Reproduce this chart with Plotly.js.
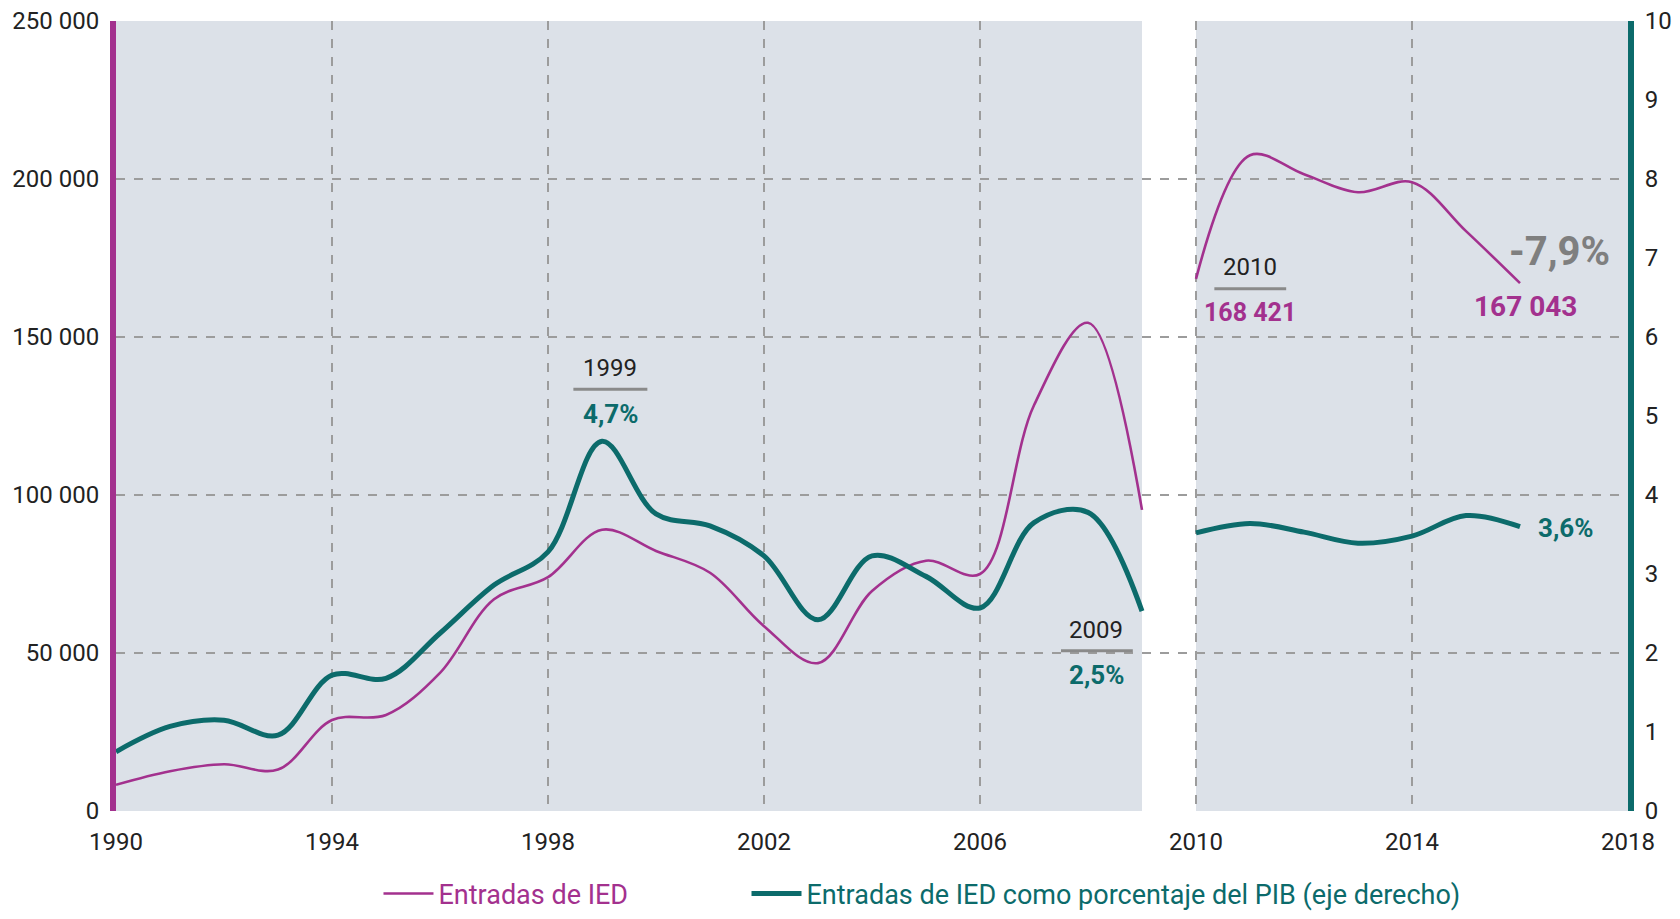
<!DOCTYPE html>
<html>
<head>
<meta charset="utf-8">
<script src="https://cdn.plot.ly/plotly-3.0.1.min.js"></script>
<style>html,body{margin:0;padding:0;background:#fff;}#chart{width:1680px;height:919px;}</style>
</head>
<body>
<div id="chart"></div>
<script>
// ---- data ----
const years = [1990,1991,1992,1993,1994,1995,1996,1997,1998,1999,2000,2001,2002,2003,2004,2005,2006,2007,2008,2009,2010,2011,2012,2013,2014,2015,2016];
const iedInflows = [8300,12600,14800,13100,28800,30400,43700,67000,74000,89000,82300,75400,58500,46800,69600,79200,75000,128400,154500,95300,168421,207500,201500,195800,199000,183500,167043];
const iedPctGdp = [0.75,1.07,1.15,0.96,1.72,1.68,2.25,2.86,3.28,4.68,3.76,3.61,3.23,2.42,3.23,2.97,2.57,3.65,3.78,2.53,3.52,3.64,3.53,3.39,3.48,3.74,3.60];
const breakYear = 2009;          // last year of the first segment
const resumeYear = 2010;         // first year of the second segment
const xTickLabels = [1990,1994,1998,2002,2006,2010,2014,2018];
const seriesNames = ["Entradas de IED", "Entradas de IED como porcentaje del PIB (eje derecho)"];

const MAG = "#a3318e", TEAL = "#0c6b6b", GRID = "#9c9c9c", BG = "#dce1e8";
const FONT = "Roboto, 'Liberation Sans', sans-serif";

const i1 = years.indexOf(breakYear) + 1;
const i2 = years.indexOf(resumeYear);

function seg(arr, a, b){ return arr.slice(a, b); }

const traces = [
  {x: seg(years,0,i1), y: seg(iedInflows,0,i1), yaxis:"y", type:"scatter", mode:"lines",
   line:{color:MAG, width:2.6, shape:"spline", smoothing:1},
   name:'<span style="color:'+MAG+'">'+seriesNames[0]+'</span>', legendgroup:"a", legend:"legend"},
  {x: seg(years,0,i1), y: seg(iedPctGdp,0,i1), yaxis:"y2", type:"scatter", mode:"lines",
   line:{color:TEAL, width:5, shape:"spline", smoothing:1},
   name:'<span style="color:'+TEAL+'">'+seriesNames[1]+'</span>', legendgroup:"b", legend:"legend2"},
  {x: seg(years,i2), y: seg(iedInflows,i2), yaxis:"y", type:"scatter", mode:"lines",
   line:{color:MAG, width:2.6, shape:"spline", smoothing:1}, showlegend:false, legendgroup:"a"},
  {x: seg(years,i2), y: seg(iedPctGdp,i2), yaxis:"y2", type:"scatter", mode:"lines",
   line:{color:TEAL, width:5, shape:"spline", smoothing:1}, showlegend:false, legendgroup:"b"}
];

const last = years.length - 1;
const y1999 = years.indexOf(1999), y2009 = years.indexOf(2009), y2010 = years.indexOf(2010);
function pct(v){ return v.toFixed(1).replace(".", ",") + "%"; }
function thou(v){ return String(v).replace(/\B(?=(\d{3})+(?!\d))/g, " "); }

const annotations = [
  {x:1999.15, y:5.61, text:"1999", font:{size:24, color:"#222"}},
  {x:1999.15, y:5.02, text:"<b>"+pct(iedPctGdp[y1999])+"</b>", font:{size:26, color:TEAL}},
  {x:2008.15, y:2.29, text:"2009", font:{size:24, color:"#222"}},
  {x:2008.15, y:1.72, text:"<b>"+pct(iedPctGdp[y2009])+"</b>", font:{size:26, color:TEAL}},
  {x:2011.0, y:6.89, text:"2010", font:{size:24, color:"#222"}},
  {x:2011.0, y:6.31, text:"<b>"+thou(iedInflows[y2010])+"</b>", font:{size:25, color:MAG}},
  {x:2016.74, y:7.08, text:"<b>-7,9%</b>", font:{size:40, color:"#7f7f7f"}},
  {x:2016.11, y:6.38, text:"<b>"+thou(iedInflows[last])+"</b>", font:{size:28, color:MAG}},
  {x:2016.85, y:3.58, text:"<b>"+pct(iedPctGdp[last])+"</b>", font:{size:26, color:TEAL}}
].map(a => Object.assign({xref:"x", yref:"y2", showarrow:false, xanchor:"center", yanchor:"middle"}, a, {font:Object.assign({family:FONT}, a.font)}));

const shapes = [
  {type:"rect", xref:"x", yref:"paper", x0:breakYear, x1:resumeYear, y0:0, y1:1, fillcolor:"#ffffff", line:{width:0}, layer:"below"},
  {type:"line", xref:"x", yref:"y2", x0:1998.47, x1:1999.84, y0:5.34, y1:5.34, line:{color:"#8a8a8a", width:3}},
  {type:"line", xref:"x", yref:"y2", x0:2007.5, x1:2008.83, y0:2.03, y1:2.03, line:{color:"#8a8a8a", width:3}},
  {type:"line", xref:"x", yref:"y2", x0:2010.34, x1:2011.67, y0:6.61, y1:6.61, line:{color:"#8a8a8a", width:3}}
];

const legendBase = {orientation:"h", y:-0.105, xanchor:"left", yanchor:"middle", itemwidth:50,
                    font:{family:FONT, size:27}, bgcolor:"rgba(0,0,0,0)", borderwidth:0};

const layout = {
  width:1680, height:919,
  margin:{l:116, r:52, t:21, b:108, autoexpand:false},
  paper_bgcolor:"#ffffff", plot_bgcolor:BG,
  separators:", ",
  font:{family:FONT, size:24, color:"#222"},
  showlegend:true,
  legend:Object.assign({x:0.1736}, legendBase),
  legend2:Object.assign({x:0.417}, legendBase),
  xaxis:{range:[1990,2018], tickvals:xTickLabels, ticktext:xTickLabels.map(String),
         showgrid:true, gridcolor:GRID, griddash:"dash", gridwidth:1.2,
         showline:false, zeroline:false, ticks:"", ticklabelstandoff:14,
         tickfont:{family:FONT, size:24, color:"#222"}, fixedrange:true},
  yaxis:{range:[0,250000], dtick:50000, tick0:0, tickformat:",d", showgrid:true, gridcolor:GRID, griddash:"dash", gridwidth:1.2,
         showline:true, linecolor:MAG, linewidth:6, zeroline:false, ticks:"", ticklabelstandoff:6,
         tickfont:{family:FONT, size:24, color:"#222"}},
  yaxis2:{range:[0,10], dtick:1, tick0:0, overlaying:"y", side:"right", showgrid:false,
          showline:true, linecolor:TEAL, linewidth:6, zeroline:false, ticks:"", ticklabelstandoff:6,
          tickfont:{family:FONT, size:24, color:"#222"}},
  annotations:annotations,
  shapes:shapes
};

Plotly.newPlot("chart", traces, layout, {displayModeBar:false, staticPlot:true});
</script>
</body>
</html>
